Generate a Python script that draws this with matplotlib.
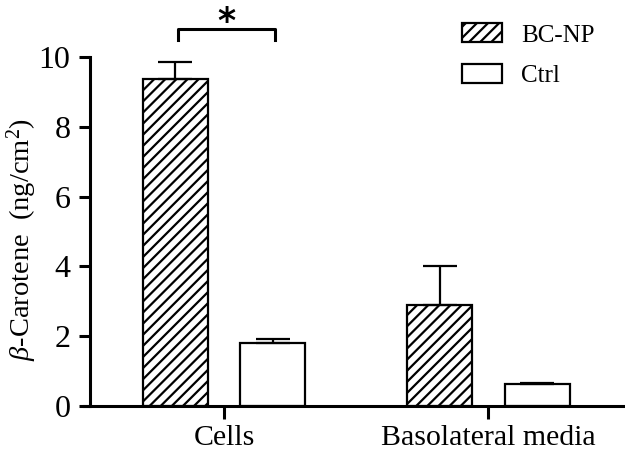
import numpy as np
import matplotlib.pyplot as plt
from matplotlib.patches import Patch

plt.rcParams['font.family'] = ['Liberation Serif', 'DejaVu Serif']
plt.rcParams['mathtext.fontset'] = 'custom'
plt.rcParams['mathtext.rm'] = 'Liberation Serif'
plt.rcParams['mathtext.it'] = 'Liberation Serif:italic'
plt.rcParams['hatch.linewidth'] = 1.6

groups = ['Cells', 'Basolateral media']
series = ['BC-NP', 'Ctrl']
bcnp_mean = [9.38, 2.88]
bcnp_err = [0.47, 1.14]
ctrl_mean = [1.80, 0.63]
ctrl_err = [0.12, 0.04]

fig = plt.figure(figsize=(6.25, 4.5), dpi=100)
ax = fig.add_axes([84 / 625, 44 / 450, 541 / 625, 406 / 450])

x = np.arange(len(groups))
w = 0.246
off = 0.184

ax.bar(x - off, bcnp_mean, w, facecolor='white', edgecolor='black',
       linewidth=1.6, hatch='///', label=series[0])
ax.bar(x + off, ctrl_mean, w, facecolor='white', edgecolor='black',
       linewidth=1.6, label=series[1])
ax.errorbar(x - off, bcnp_mean, yerr=[[0, 0], bcnp_err], fmt='none',
            ecolor='black', elinewidth=1.6, capsize=12, capthick=1.6)
ax.errorbar(x + off, ctrl_mean, yerr=[[0, 0], ctrl_err], fmt='none',
            ecolor='black', elinewidth=1.6, capsize=12, capthick=1.6)

# significance bracket
x1, x2 = x[0] - off + 0.01, x[0] + off + 0.01
ax.plot([x1, x1, x2, x2], [10.49, 10.8, 10.8, 10.49], color='black',
        lw=2.2, clip_on=False)
ax.text((x1 + x2) / 2, 11.0, '*', ha='center', va='center',
        fontsize=25, fontweight='bold', family='DejaVu Sans')

ax.set_xlim(-0.529, 1.516)
ax.set_ylim(0, 406 / 34.9)
ax.set_xticks(x)
ax.set_xticklabels(groups, fontsize=21.5)
ax.set_yticks([0, 2, 4, 6, 8, 10])
ax.tick_params(axis='y', labelsize=23, width=2.2, length=8, pad=6)
ax.tick_params(axis='x', width=2.2, length=9, pad=5)

for s in ['top', 'right']:
    ax.spines[s].set_visible(False)
ax.spines['left'].set_bounds(0, 10)
ax.spines['left'].set_position(('axes', 6 / 541))
ax.spines['left'].set_linewidth(2.2)
ax.spines['bottom'].set_linewidth(2.2)

ax.set_ylabel(r'$\beta$-Carotene  (ng/cm$^2$)', fontsize=20.5)
ax.yaxis.set_label_coords(-0.083, 0.41)

handles = [Patch(facecolor='white', edgecolor='black', hatch='///', linewidth=1.6),
           Patch(facecolor='white', edgecolor='black', linewidth=1.6)]
ax.legend(handles, series, loc='upper right', bbox_to_anchor=(0.985, 0.998),
          frameon=False, fontsize=18, handlelength=1.6, handleheight=0.8,
          handletextpad=0.75, labelspacing=0.68)

fig.savefig('out.png', dpi=100)
